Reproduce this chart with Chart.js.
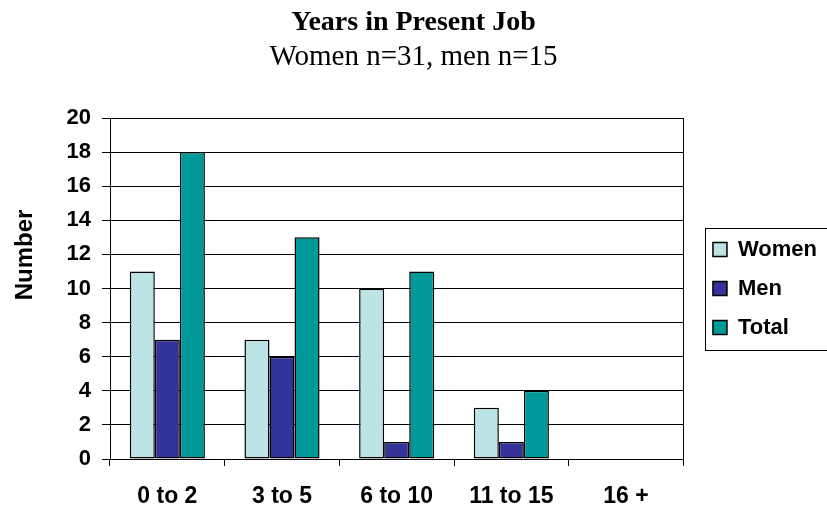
<!DOCTYPE html>
<html>
<head>
<meta charset="utf-8">
<script src="https://cdn.jsdelivr.net/npm/chart.js@4"></script>
<style>
  html, body { margin: 0; padding: 0; background: #fff; }
  #wrap { width: 827px; height: 506px; }
</style>
</head>
<body>
<div id="wrap"><canvas id="jobChart"></canvas></div>
<script>
const categories = ["0 to 2", "3 to 5", "6 to 10", "11 to 15", "16 +"];
const women = [11, 7, 10, 3, 0];
const men = [7, 6, 1, 1, 0];
const total = [18, 13, 11, 4, 0];

const SANS = "'Liberation Sans', Arial, sans-serif";
const SERIF = "'Liberation Serif', 'Times New Roman', serif";

// draws the box round the legend and the rotated "Number" label
const extras = {
  id: "extras",
  afterDraw(chart) {
    const ctx = chart.ctx;
    const lg = chart.legend;
    const boxes = lg.legendHitBoxes;
    if (boxes && boxes.length) {
      const top = boxes[0].top - 11;
      const last = boxes[boxes.length - 1];
      const bottom = last.top + last.height + 11;
      ctx.save();
      ctx.strokeStyle = "#000";
      ctx.lineWidth = 1;
      ctx.strokeRect(Math.round(lg.left + 9) + 0.5, Math.round(top) + 0.5, 200, Math.round(bottom - top));
      ctx.restore();
    }
    ctx.save();
    ctx.translate(25, 255);
    ctx.rotate(-Math.PI / 2);
    ctx.font = "bold 24px " + SANS;
    ctx.fillStyle = "#000";
    ctx.textAlign = "center";
    ctx.textBaseline = "middle";
    ctx.fillText("Number", 0, 0);
    ctx.restore();
  }
};

const ctx = document.getElementById("jobChart").getContext("2d");

new Chart(ctx, {
  type: "bar",
  data: {
    labels: categories,
    datasets: [
      { label: "Women", data: women, backgroundColor: "#BCE3E5", borderColor: "#000", yAxisID: "y" },
      { label: "Men", data: men, backgroundColor: "#333399", borderColor: "#000", yAxisID: "y" },
      { label: "Total", data: total, backgroundColor: "#009999", borderColor: "#000", yAxisID: "y" }
    ]
  },
  options: {
    responsive: true,
    maintainAspectRatio: false,
    animation: false,
    datasets: {
      bar: {
        borderWidth: 1.5,
        borderSkipped: false,
        categoryPercentage: 0.655,
        barPercentage: 1.0
      }
    },
    plugins: {
      title: {
        display: true,
        text: "Years in Present Job",
        color: "#000",
        font: { family: SERIF, size: 28, weight: "bold" },
        padding: { top: 6, bottom: 0 }
      },
      subtitle: {
        display: true,
        text: "Women n=31, men n=15",
        color: "#000",
        font: { family: SERIF, size: 29, weight: "normal" },
        padding: { top: 0, bottom: 43.6 }
      },
      legend: {
        position: "right",
        fullSize: false,
        labels: {
          color: "#000",
          font: { family: SANS, size: 22, weight: "bold" },
          boxWidth: 14,
          boxHeight: 14,
          padding: 17
        }
      },
      tooltip: { enabled: false }
    },
    scales: {
      x: {
        offset: true,
        grid: {
          offset: true,
          drawOnChartArea: false,
          color: "#000",
          tickLength: 7
        },
        border: { color: "#000", width: 1 },
        ticks: {
          color: "#000",
          padding: 19,
          font: { family: SANS, size: 23, weight: "bold", lineHeight: 1 }
        },
        afterFit(s) { s.height = 47; }
      },
      y: {
        min: 0,
        max: 20,
        ticks: {
          stepSize: 2,
          color: "#000",
          padding: 11,
          font: { family: SANS, size: 22, weight: "bold" }
        },
        grid: { color: "#000", lineWidth: 1, tickLength: 8 },
        border: { color: "#000", width: 1 },
        afterFit(s) { s.width = 110; }
      },
      y2: {
        position: "right",
        display: true,
        ticks: { display: false },
        grid: { display: false },
        border: { display: true, color: "#000", width: 1 },
        afterFit(s) { s.width = 12.6; }
      }
    }
  },
  plugins: [extras]
});
</script>
</body>
</html>
